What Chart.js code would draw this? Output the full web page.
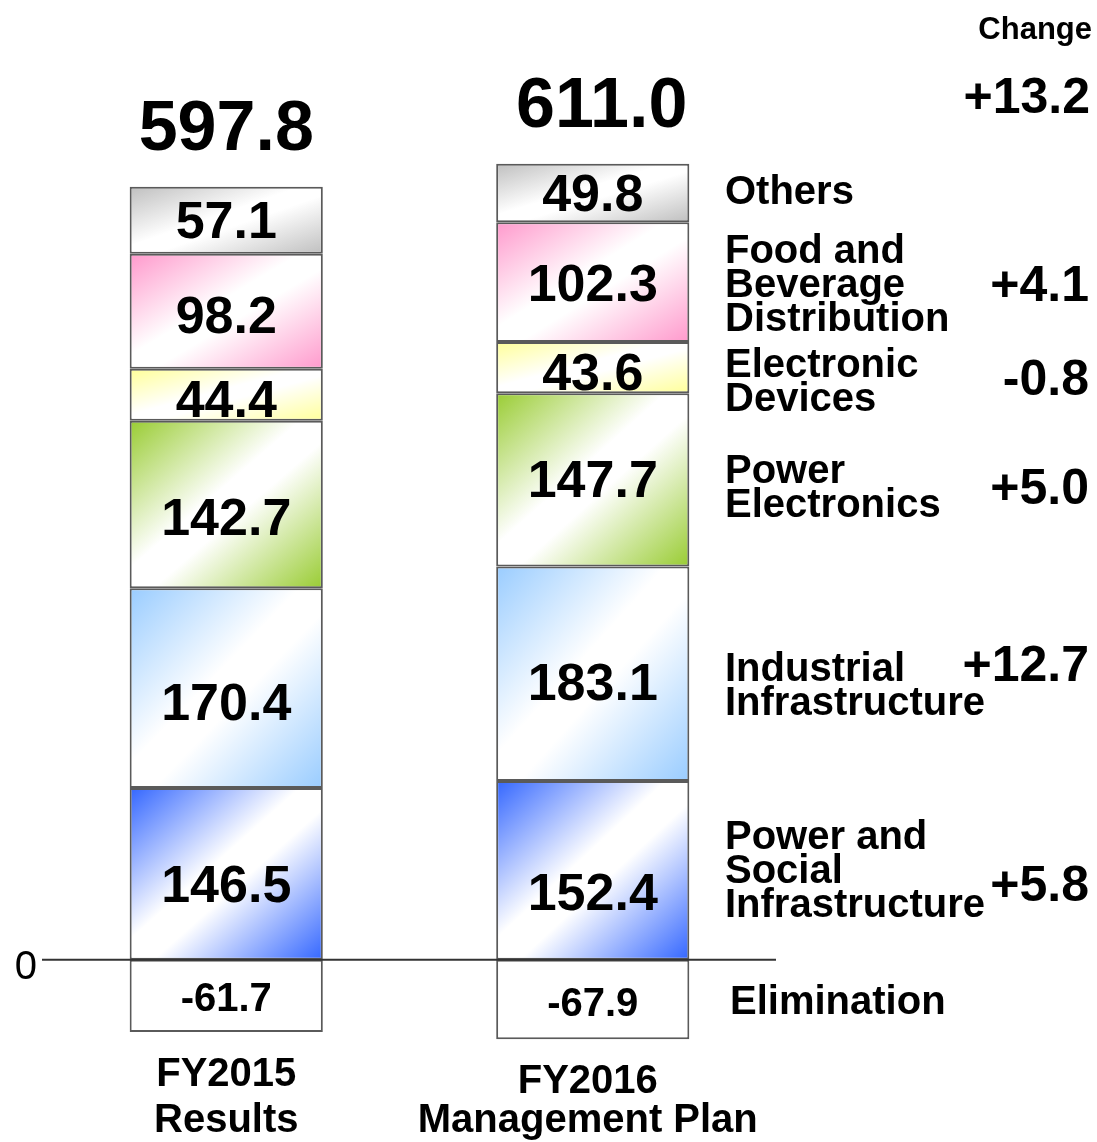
<!DOCTYPE html>
<html>
<head>
<meta charset="utf-8">
<script src="https://cdn.jsdelivr.net/npm/chart.js@4.4.1/dist/chart.umd.min.js"></script>
<style>
  html, body { margin: 0; padding: 0; background: #fff; }
  canvas { display: block; }
</style>
</head>
<body>
<canvas id="chart" width="1097" height="1142"></canvas>
<script>
const categories = [['FY2015', 'Results'], ['FY2016', 'Management Plan']];
const segmentNames = [
  ['Elimination'],
  ['Power and', 'Social', 'Infrastructure'],
  ['Industrial', 'Infrastructure'],
  ['Power', 'Electronics'],
  ['Electronic', 'Devices'],
  ['Food and', 'Beverage', 'Distribution'],
  ['Others'],
];
const elimination = [-61.7, -67.9];
const powerSocial = [146.5, 152.4];
const industrial = [170.4, 183.1];
const powerElec = [142.7, 147.7];
const electronic = [44.4, 43.6];
const foodBev = [98.2, 102.3];
const others = [57.1, 49.8];
const totals = [597.8, 611.0];
const changes = [null, 5.8, 12.7, 5.0, -0.8, 4.1, null];
const totalChange = 13.2;

const series = [elimination, powerSocial, industrial, powerElec, electronic, foodBev, others];
const colors = [null, '#3366ff', '#99ccff', '#99cc33', '#ffff99', '#ff99cc', '#bfbfbf'];

// layout nudges (pixels) so the text sits where the original slide put it
const valueNudge = [[4, 5], [14, 25], [18, 12], [16, 3], [8, 8], [7, 5], [3, 4]];
const nameNudge = [3, 2, 13, 9, 15, 4, 0];
const changeNudge = [0, 17, -6, 10, 14, 5, 0];
const totalShift = [0, 9];
const catShift = [0, -5];

const FONT = '"Liberation Sans", Arial, sans-serif';
const BAR_PCT = 0.527;

function fmt(v) {
  return (v > 0 ? '+' : '') + v.toFixed(1);
}

// diagonal colour -> white -> colour, scaled to the bar like an Office fill
function barFill(context) {
  const chart = context.chart;
  const color = colors[context.datasetIndex];
  if (!color) return '#ffffff';
  const xs = chart.scales.x;
  const ys = chart.scales.y;
  if (!xs || !ys || !chart.chartArea) return color;
  const i = context.dataIndex;
  let base = 0;
  for (let d = 1; d < context.datasetIndex; d += 1) base += series[d][i];
  const v = series[context.datasetIndex][i];
  const half = (xs.width / categories.length) * BAR_PCT / 2;
  const cx = xs.getPixelForValue(i);
  const x0 = Math.round(cx - half);
  const y0 = Math.round(ys.getPixelForValue(base + v));
  const w = Math.max(1, Math.round(half * 2));
  const h = Math.max(1, Math.round(ys.getPixelForValue(base) - y0));
  const off = document.createElement('canvas');
  off.width = w;
  off.height = h;
  const g = off.getContext('2d');
  g.scale(w, h);
  const grad = g.createLinearGradient(0, 0, 1, 1);
  grad.addColorStop(0, color);
  grad.addColorStop(0.44, '#ffffff');
  grad.addColorStop(0.56, '#ffffff');
  grad.addColorStop(1, color);
  g.fillStyle = grad;
  g.fillRect(0, 0, 1, 1);
  const pattern = chart.ctx.createPattern(off, 'no-repeat');
  pattern.setTransform(new DOMMatrix().translate(x0, y0));
  return pattern;
}

const textPlugin = {
  id: 'textPlugin',
  afterDatasetsDraw(chart) {
    const { ctx } = chart;
    const xs = chart.scales.x;
    const ys = chart.scales.y;
    const zeroY = ys.getPixelForValue(0);
    ctx.save();

    // zero line and its tick label
    ctx.strokeStyle = '#333333';
    ctx.lineWidth = 2;
    ctx.beginPath();
    ctx.moveTo(42, zeroY);
    ctx.lineTo(chart.chartArea.right, zeroY);
    ctx.stroke();
    ctx.fillStyle = '#000';
    ctx.font = '40px ' + FONT;
    ctx.textAlign = 'right';
    ctx.textBaseline = 'middle';
    ctx.fillText('0', 37, zeroY + 8);

    // values inside the segments
    ctx.textAlign = 'center';
    series.forEach((vals, d) => {
      const meta = chart.getDatasetMeta(d);
      meta.data.forEach((bar, i) => {
        ctx.font = 'bold ' + (d === 0 ? 40 : 52) + 'px ' + FONT;
        const mid = (bar.y + bar.base) / 2;
        ctx.fillText(vals[i].toFixed(1), bar.x, mid + valueNudge[d][i]);
      });
    });

    // totals above and category labels below
    const topMeta = chart.getDatasetMeta(series.length - 1);
    const botMeta = chart.getDatasetMeta(0);
    ctx.textBaseline = 'alphabetic';
    categories.forEach((lines, i) => {
      const cx = xs.getPixelForValue(i);
      ctx.font = 'bold 70px ' + FONT;
      ctx.fillText(totals[i].toFixed(1), cx + totalShift[i], topMeta.data[i].y - 37);
      ctx.font = 'bold 40px ' + FONT;
      ctx.fillText(lines[0], cx + catShift[i], botMeta.data[i].y + 54);
      ctx.fillText(lines[1], cx + catShift[i], 1132);
    });

    // right column: segment names and changes, aligned on FY2016 segments
    const last = categories.length - 1;
    series.forEach((vals, d) => {
      const bar = chart.getDatasetMeta(d).data[last];
      const mid = (bar.y + bar.base) / 2;
      const names = segmentNames[d];
      const lh = 34;
      ctx.textAlign = 'left';
      ctx.textBaseline = 'middle';
      ctx.font = 'bold 40px ' + FONT;
      const startY = mid + nameNudge[d] - ((names.length - 1) * lh) / 2;
      names.forEach((t, k) => {
        ctx.fillText(t, d === 0 ? 730 : 725, startY + k * lh);
      });
      if (changes[d] !== null) {
        ctx.textAlign = 'right';
        ctx.font = 'bold 50px ' + FONT;
        ctx.fillText(fmt(changes[d]), 1089, mid + changeNudge[d]);
      }
    });

    ctx.textAlign = 'right';
    ctx.font = 'bold 31px ' + FONT;
    ctx.fillText('Change', 1092, 30);
    ctx.font = 'bold 50px ' + FONT;
    ctx.fillText(fmt(totalChange), 1090, 99);

    ctx.restore();
  },
};

new Chart(document.getElementById('chart').getContext('2d'), {
  type: 'bar',
  data: {
    labels: categories.map((c) => c.join(' ')),
    datasets: series.map((vals, d) => ({
      label: segmentNames[d].join(' '),
      data: vals,
      backgroundColor: barFill,
      borderColor: '#5a5a5a',
      borderWidth: 2,
      borderSkipped: false,
      categoryPercentage: 1,
      barPercentage: BAR_PCT,
    })),
  },
  options: {
    responsive: false,
    animation: false,
    events: [],
    layout: { padding: { left: 43, right: 321, top: 139, bottom: 65 } },
    plugins: { legend: { display: false }, tooltip: { enabled: false } },
    scales: {
      x: { stacked: true, display: false },
      y: { stacked: true, display: false, min: -100, max: 700 },
    },
  },
  plugins: [textPlugin],
});
</script>
</body>
</html>
